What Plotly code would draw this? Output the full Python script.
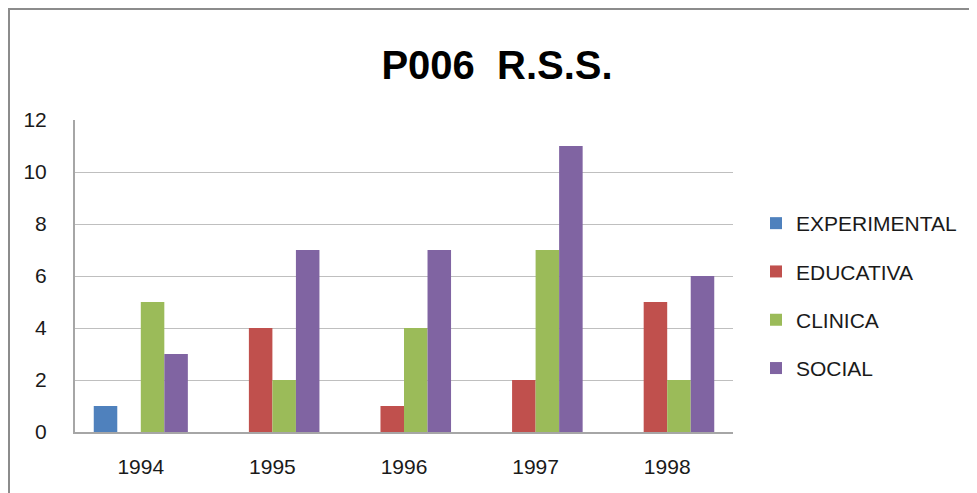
import plotly.graph_objects as go

years = ["1994", "1995", "1996", "1997", "1998"]
experimental = [1, 0, 0, 0, 0]
educativa = [0, 4, 1, 2, 5]
clinica = [5, 2, 4, 7, 2]
social = [3, 7, 7, 11, 6]

series = [
    ("EXPERIMENTAL", experimental, "#4F81BD"),
    ("EDUCATIVA", educativa, "#C0504D"),
    ("CLINICA", clinica, "#9BBB59"),
    ("SOCIAL", social, "#8064A2"),
]

# page body has an 8px margin, so the figure is a bit smaller than the window
OFF = 8
W, H = 977 - OFF, 493 - OFF
L, R, T, B = 75 - OFF, 244, 120 - OFF, 61

fig = go.Figure()
for i, (name, vals, col) in enumerate(series):
    fig.add_trace(go.Bar(x=years, y=vals, name=name, marker=dict(color=col, line_width=0),
                         legendgroup=str(i)))

font = "Liberation Sans, Arial, sans-serif"

# outer chart frame (only left/top edges visible in the crop)
pw, ph = W - L - R, H - T - B
fig.add_shape(type="rect", xref="paper", yref="paper",
              x0=(1 - L) / pw, x1=2.0, y0=-1.0, y1=(H - B - 1) / ph,
              line=dict(color="#8c8c8c", width=2), fillcolor="rgba(0,0,0,0)", layer="below")

fig.update_layout(
    width=W, height=H,
    margin=dict(l=L, r=R, t=T, b=B),
    paper_bgcolor="white", plot_bgcolor="white",
    barmode="group", bargap=0.285, bargroupgap=0,
    font=dict(family=font, size=21, color="#1a1a1a"),
    title=dict(text="<b>P006  R.S.S.</b>", x=(497 - OFF) / W, xanchor="center",
               y=1 - (65 - OFF) / H, yanchor="middle", yref="container",
               font=dict(family=font, size=40, color="black")),
    legend=dict(x=(756 - OFF - L) / pw, xanchor="left", y=(H - B - (203 - OFF)) / ph, yanchor="top",
                traceorder="grouped", tracegroupgap=18, font=dict(size=21),
                itemwidth=30, bgcolor="rgba(0,0,0,0)"),
    showlegend=True,
)
fig.update_xaxes(showline=True, linecolor="#a6a6a6", linewidth=2, ticks="",
                 ticklabelstandoff=15)
fig.update_yaxes(range=[0, 12], dtick=2, showgrid=True, gridcolor="#bfbfbf", gridwidth=1,
                 showline=True, linecolor="#a6a6a6", linewidth=2, zeroline=False,
                 ticks="", ticklabelstandoff=22)

fig.write_html("out.html")
